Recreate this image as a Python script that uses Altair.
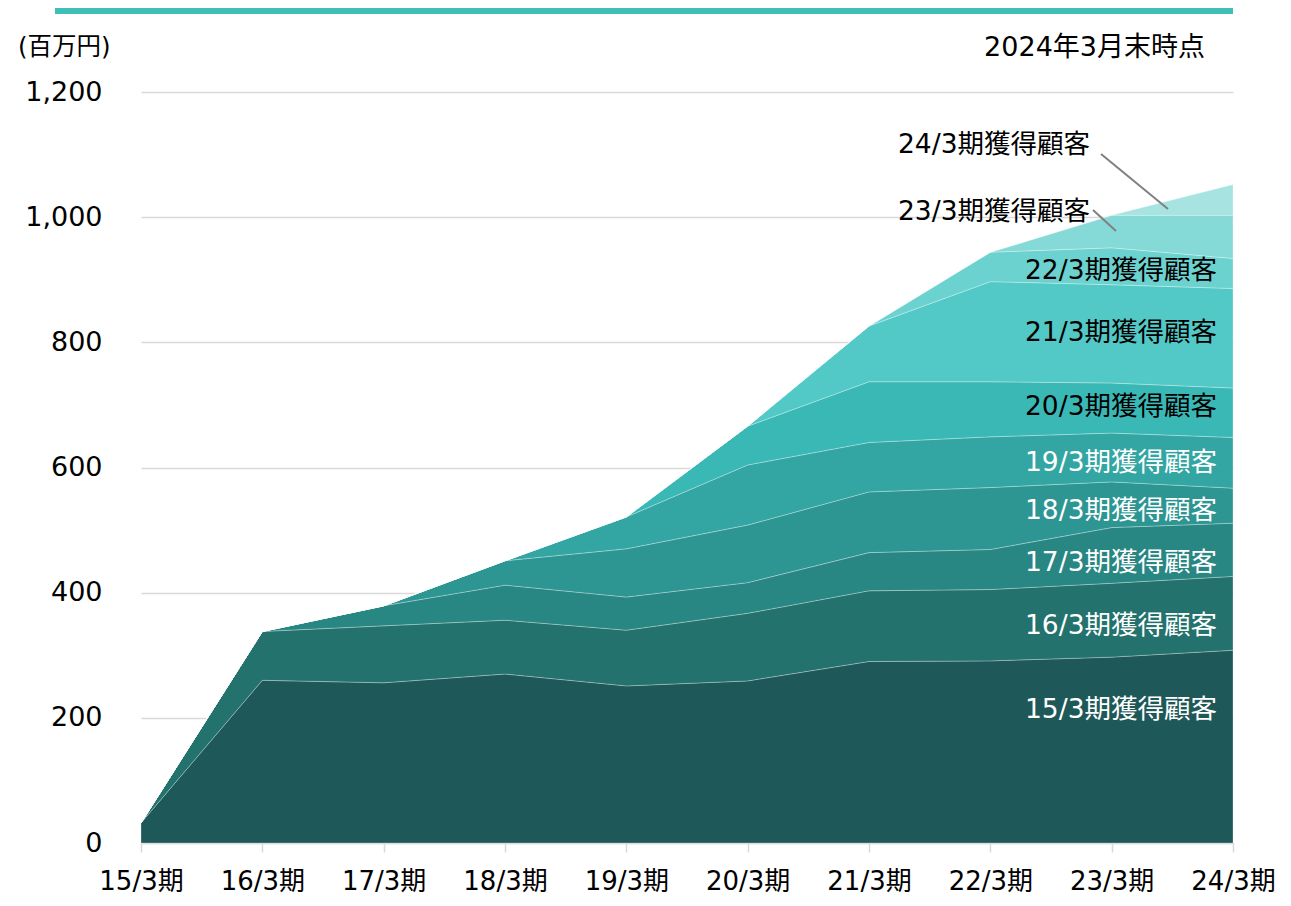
import altair as alt
import pandas as pd

FONT = "DejaVu Sans, Noto Sans CJK JP"

periods = ["15/3期", "16/3期", "17/3期", "18/3期", "19/3期",
           "20/3期", "21/3期", "22/3期", "23/3期", "24/3期"]
layers = ["15/3期獲得顧客", "16/3期獲得顧客", "17/3期獲得顧客", "18/3期獲得顧客",
          "19/3期獲得顧客", "20/3期獲得顧客", "21/3期獲得顧客", "22/3期獲得顧客",
          "23/3期獲得顧客", "24/3期獲得顧客"]

v15 = [32, 260, 256, 270, 251, 259, 290, 291, 297, 308]
v16 = [0, 78, 91, 86, 89, 108, 113, 114, 118, 118]
v17 = [None, 0, 32, 56, 53, 49, 61, 64, 89, 85]
v18 = [None, None, 0, 39, 77, 92, 97, 99, 73, 56]
v19 = [None, None, None, 0, 51, 96, 79, 81, 78, 81]
v20 = [None, None, None, None, 0, 62, 97, 88, 80, 79]
v21 = [None, None, None, None, None, 0, 89, 160, 157, 159]
v22 = [None, None, None, None, None, None, 0, 47, 59, 48]
v23 = [None, None, None, None, None, None, None, 0, 52, 69]
v24 = [None, None, None, None, None, None, None, None, 0, 49]
series = [v15, v16, v17, v18, v19, v20, v21, v22, v23, v24]

colors = ["#1e5858", "#23726e", "#288683", "#2d9592", "#33a6a3",
          "#3ab8b6", "#52c9c6", "#6cd2cf", "#85dad7", "#a6e3e1"]

# label anchor heights (data units) and text colours
label_y = [212, 347, 447, 530, 607, 697, 815, 914, 1008, 1115]
label_col = ["white", "white", "white", "white", "white",
             "black", "black", "black", "black", "black"]

rows = []
for i, (name, vals) in enumerate(zip(layers, series)):
    for p, v in zip(periods, vals):
        if v is not None:
            rows.append({"period": p, "layer": name, "idx": i, "value": v})
df = pd.DataFrame(rows)

lab = pd.DataFrame({"layer": layers, "y": label_y, "col": label_col,
                    "period": [periods[-1]] * len(layers)})
lab_a = lab.iloc[:8]
lab_b = lab.iloc[8:]

xscale = alt.Scale(domain=periods, padding=0)
yscale = alt.Scale(domain=[0, 1200])

area = alt.Chart(df).mark_area(
    stroke="white", strokeWidth=0.8, strokeOpacity=0.35, interpolate="linear"
).encode(
    x=alt.X("period:O", scale=xscale, sort=periods, title=None,
            axis=alt.Axis(labelAngle=0, labelFontSize=26, labelColor="#000",
                          labelFont=FONT, domainColor="#d9d9d9", domainWidth=1.5,
                          tickColor="#d9d9d9", tickWidth=1.5, tickSize=9,
                          labelPadding=16, grid=False)),
    y=alt.Y("value:Q", stack="zero", scale=yscale, title=None,
            axis=alt.Axis(values=[0, 200, 400, 600, 800, 1000, 1200], format=",.0f",
                          labelFontSize=27, labelColor="#000", labelFont=FONT,
                          domain=False, ticks=False, tickSize=0, labelPadding=39,
                          gridColor="#d9d9d9", gridWidth=1.5)),
    color=alt.Color("layer:N", scale=alt.Scale(domain=layers, range=colors), legend=None),
    order=alt.Order("idx:Q", sort="ascending"),
)

text_a = alt.Chart(lab_a).mark_text(
    align="right", baseline="middle", dx=-16, fontSize=26.5, font=FONT
).encode(
    x=alt.X("period:O", scale=xscale, sort=periods),
    y=alt.Y("y:Q", scale=yscale),
    text="layer:N",
    color=alt.Color("col:N", scale=None),
)
text_b = alt.Chart(lab_b).mark_text(
    align="right", baseline="middle", dx=-143, fontSize=26.5, font=FONT
).encode(
    x=alt.X("period:O", scale=xscale, sort=periods),
    y=alt.Y("y:Q", scale=yscale),
    text="layer:N",
    color=alt.Color("col:N", scale=None),
)

lead1 = alt.Chart(pd.DataFrame({"a": [0]})).mark_rule(color="#808080", strokeWidth=2).encode(
    x=alt.value(960), x2=alt.value(1027), y=alt.value(62), y2=alt.value(117))
lead2 = alt.Chart(pd.DataFrame({"a": [0]})).mark_rule(color="#808080", strokeWidth=2).encode(
    x=alt.value(952), x2=alt.value(975), y=alt.value(118), y2=alt.value(139))
topbar = alt.Chart(pd.DataFrame({"a": [0]})).mark_rule(color="#40bfba", strokeWidth=6).encode(
    x=alt.value(-86), x2=alt.value(1092), y=alt.value(-81), y2=alt.value(-81))
unit = alt.Chart(pd.DataFrame({"t": ["(百万円)"]})).mark_text(
    align="left", baseline="middle", fontSize=24.5, font=FONT, color="#000"
).encode(x=alt.value(-123), y=alt.value(-44), text="t:N")
date = alt.Chart(pd.DataFrame({"t": ["2024年3月末時点"]})).mark_text(
    align="right", baseline="middle", fontSize=27, font=FONT, color="#000"
).encode(x=alt.value(1064), y=alt.value(-44), text="t:N")

chart = alt.layer(area, text_a, text_b, lead1, lead2, topbar, unit, date).properties(
    width=1092, height=751,
    padding={"left": 133, "top": 84, "right": 48, "bottom": 54},
    autosize=alt.AutoSizeParams(type="none"),
    background="white",
).configure_view(stroke=None)

chart.save("out.html", embed_options={"renderer": "svg", "actions": False})
